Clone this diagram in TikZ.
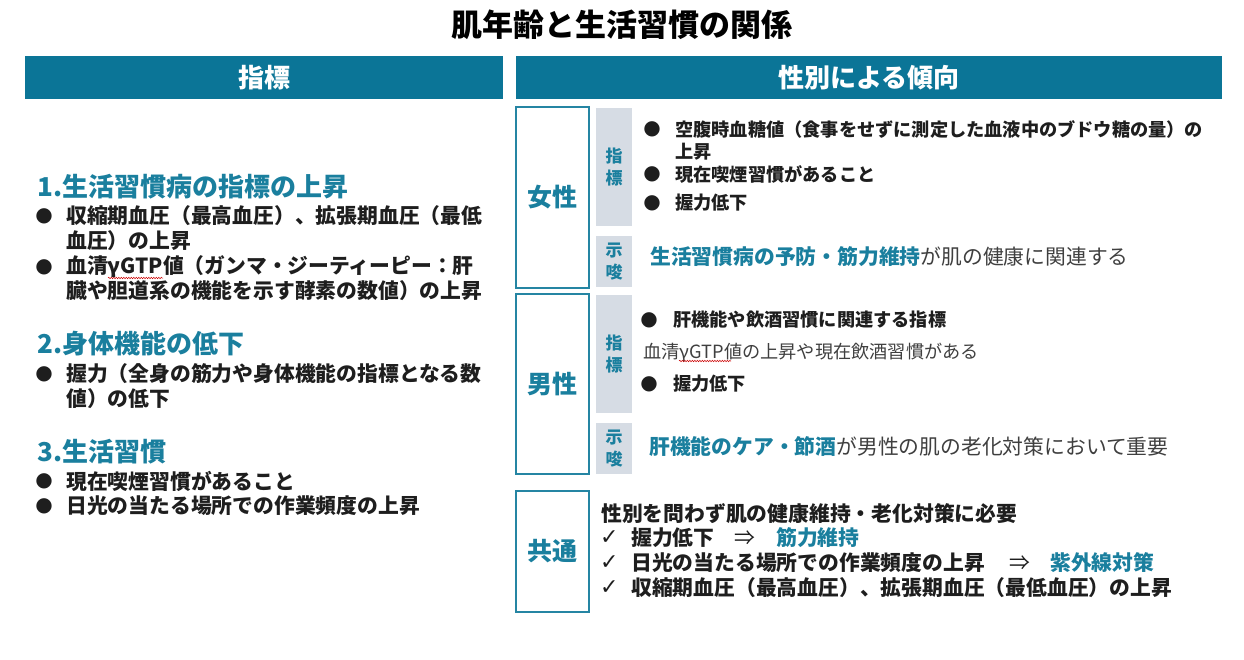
\documentclass[tikz,border=0pt]{standalone}
\usepackage{fontspec}
\setmainfont{Noto Sans CJK JP}
\newfontfamily\symfont{DejaVu Sans}
\usetikzlibrary{decorations.pathmorphing}
\definecolor{barteal}{HTML}{0B7597}
\definecolor{tealtext}{HTML}{1A7F9E}
\definecolor{boxline}{HTML}{2585A3}
\definecolor{tagfill}{HTML}{D6DCE4}
\definecolor{bodytext}{HTML}{1E1E1E}
\definecolor{softtext}{HTML}{3F3F3F}
\newcommand\fsz[1]{\fontsize{#1pt}{\dimexpr#1pt*5/4\relax}\selectfont}

\begin{document}
\begin{tikzpicture}[x=1pt,y=-1pt,
  bar/.style={fill=barteal,text=white,font=\bfseries\fsz{26},inner sep=0pt,minimum height=43},
  sexbox/.style={draw=boxline,line width=1.5pt,minimum width=73,font=\bfseries\fsz{25},text=tealtext,inner sep=0pt},
  tag/.style={fill=tagfill,minimum width=36,text=tealtext,font=\bfseries\fsz{17},align=center,inner sep=0pt},
  head/.style={anchor=west,inner sep=0pt,text=tealtext,font=\bfseries\fsz{26}},
  txt/.style={anchor=west,inner sep=0pt,text=bodytext,font=\bfseries\fsz{20.8}},
  small/.style={txt,font=\bfseries\fsz{18.2}},
  dot/.style={inner sep=0pt,text=bodytext,font=\symfont\fsz{20}},
  tick/.style={anchor=west,inner sep=0pt,text=bodytext,font=\symfont\fsz{22}},
  imply/.style={anchor=west,inner sep=0pt,text=bodytext,font=\fsz{20.8}},
  spell/.style={red!80!black,line width=0.5pt,decorate,decoration={snake,amplitude=0.7pt,segment length=2.5pt}}]
  \useasboundingbox (0,0) rectangle (1244,660);
  \node[font=\bfseries\fsz{31},inner sep=0pt] (title) at (622,25) {肌年齢と生活習慣の関係};
  \node[bar,minimum width=478] (lbar) at (264,77.5) {指標};
  \node[bar,minimum width=706] (rbar) at (869,77.5) {性別による傾向};
  % left column
  \node[head] (h1) at (37,187) {1.生活習慣病の指標の上昇};
  \node[dot] (d1) at (44,216) {●};
  \node[txt] (l1) at (66,216) {収縮期血圧（最高血圧）、拡張期血圧（最低};
  \node[txt] (l1b) at (66,241) {血圧）の上昇};
  \node[dot] (d2) at (44,267) {●};
  \node[txt] (l2) at (66,267) {血清γGTP値（ガンマ・ジーティーピー：肝};
  \node[txt] (l2b) at (66,291) {臓や胆道系の機能を示す酵素の数値）の上昇};
  \node[head] (h2) at (37,344) {2.身体機能の低下};
  \node[dot] (d3) at (44,374) {●};
  \node[txt] (l3) at (66,374) {握力（全身の筋力や身体機能の指標となる数};
  \node[txt] (l3b) at (66,399) {値）の低下};
  \node[head] (h3) at (37,452) {3.生活習慣};
  \node[dot] (d4) at (44,481) {●};
  \node[txt] (l4) at (66,481) {現在喫煙習慣があること};
  \node[dot] (d5) at (44,506) {●};
  \node[txt] (l5) at (66,506) {日光の当たる場所での作業頻度の上昇};
  \draw[spell] (108,278) -- (163,278);
  % female
  \node[sexbox,minimum height=181] (fem) at (552.5,197.5) {女性};
  \node[tag,minimum height=118] (ftag) at (614,167) {指\\標};
  \node[tag,minimum height=51] (fsug) at (614,261.5) {示\\唆};
  \node[dot] (fd1) at (652,129) {●};
  \node[small] (f1) at (675,129) {空腹時血糖値（食事をせずに測定した血液中のブドウ糖の量）の};
  \node[small] (f1b) at (675,152) {上昇};
  \node[dot] (fd2) at (652,174) {●};
  \node[small] (f2) at (675,174) {現在喫煙習慣があること};
  \node[dot] (fd3) at (652,203) {●};
  \node[small] (f3) at (675,203) {握力低下};
  \node[txt,text=softtext,font=\fsz{20.8}] (fs) at (650,257) {{\color{tealtext}\bfseries 生活習慣病の予防・筋力維持}が肌の健康に関連する};
  % male
  \node[sexbox,minimum height=180] (mal) at (552.5,384) {男性};
  \node[tag,minimum height=118] (mtag) at (614,354) {指\\標};
  \node[tag,minimum height=51] (msug) at (614,448.5) {示\\唆};
  \node[dot] (md1) at (649,320) {●};
  \node[small] (m1) at (673,320) {肝機能や飲酒習慣に関連する指標};
  \node[txt,text=softtext,font=\fsz{18.2}] (m1b) at (643,353) {血清γGTP値の上昇や現在飲酒習慣がある};
  \node[dot] (md2) at (649,384) {●};
  \node[small] (m2) at (673,384) {握力低下};
  \node[txt,text=softtext,font=\fsz{20.8}] (ms) at (649,447) {{\color{tealtext}\bfseries 肝機能のケア・節酒}が男性の肌の老化対策において重要};
  \draw[spell] (679,361) -- (731,361);
  % common
  \node[sexbox,minimum height=121] (com) at (552.5,551.5) {共通};
  \node[txt] (c0) at (601,514) {性別を問わず肌の健康維持・老化対策に必要};
  \node[tick] (t1) at (600,538) {✓};
  \node[txt] (c1) at (631,538) {握力低下};
  \node[imply] (a1) at (734,538) {⇒};
  \node[txt,text=tealtext] (c1b) at (776,538) {筋力維持};
  \node[tick] (t2) at (600,563) {✓};
  \node[txt] (c2) at (631,563) {日光の当たる場所での作業頻度の上昇};
  \node[imply] (a2) at (1009,563) {⇒};
  \node[txt,text=tealtext] (c2b) at (1050,563) {紫外線対策};
  \node[tick] (t3) at (600,588) {✓};
  \node[txt] (c3) at (631,588) {収縮期血圧（最高血圧）、拡張期血圧（最低血圧）の上昇};
\end{tikzpicture}
\end{document}
